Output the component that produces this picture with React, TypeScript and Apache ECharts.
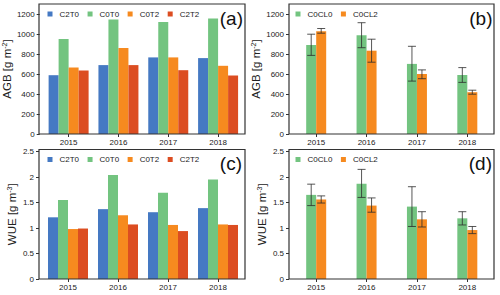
import React, { useEffect, useRef } from 'react';
import * as echarts from 'echarts';

const FONT = '"Liberation Sans", Arial, Helvetica, sans-serif';

const years = ['2015', '2016', '2017', '2018'];

// (a) AGB
const agbC2T0 = [588, 689, 766, 759];
const agbC0T0 = [951, 1146, 1119, 1156];
const agbC0T2 = [665, 860, 766, 682];
const agbC2T2 = [635, 689, 638, 585];

// (b) AGB with error bars
const agbC0CL0 = [890, 988, 701, 590];
const agbC0CL0Lo = [786, 863, 529, 516];
const agbC0CL0Hi = [998, 1113, 877, 664];
const agbC0CL2 = [1028, 833, 600, 418];
const agbC0CL2Lo = [1008, 718, 553, 398];
const agbC0CL2Hi = [1055, 948, 641, 438];

// (c) WUE
const wueC2T0 = [1.21, 1.37, 1.31, 1.39];
const wueC0T0 = [1.55, 2.04, 1.69, 1.95];
const wueC0T2 = [0.98, 1.25, 1.06, 1.07];
const wueC2T2 = [0.99, 1.07, 0.94, 1.06];

// (d) WUE with error bars
const wueC0CL0 = [1.65, 1.87, 1.42, 1.19];
const wueC0CL0Lo = [1.44, 1.6, 1.03, 1.06];
const wueC0CL0Hi = [1.86, 2.15, 1.81, 1.32];
const wueC0CL2 = [1.56, 1.44, 1.17, 0.96];
const wueC0CL2Lo = [1.49, 1.31, 1.02, 0.89];
const wueC0CL2Hi = [1.63, 1.59, 1.32, 1.03];

const agbTicks = [0, 200, 400, 600, 800, 1000, 1200];
const wueTicks = [0, 0.5, 1, 1.5, 2, 2.5];

const COLORS: Record<string, string> = {
  C2T0: '#4579c3',
  C0T0: '#73c480',
  C0T2: '#f68a1f',
  C2T2: '#dc4d21',
  C0CL0: '#73c480',
  C0CL2: '#f68a1f',
};

const panels = [
  { frame: [39, 4, 206, 130], grid: { left: 43, top: 4, width: 200, height: 130 }, yOffset: 4, label: '(a)', labelPos: [243, 18] },
  { frame: [289, 4, 205, 130], grid: { left: 291, top: 4, width: 201.5, height: 130 }, yOffset: 2, label: '(b)', labelPos: [492.5, 18] },
  { frame: [39, 149.5, 206, 129.5], grid: { left: 43, top: 149.5, width: 200, height: 129.5 }, yOffset: 4, label: '(c)', labelPos: [242, 163.5] },
  { frame: [289, 149.5, 205, 129.5], grid: { left: 291, top: 149.5, width: 201.5, height: 129.5 }, yOffset: 2, label: '(d)', labelPos: [492, 163.5] },
];

function errRender(shift: number) {
  return (params: any, api: any) => {
    const x = api.value(0);
    const lo = api.coord([x, api.value(1)]);
    const hi = api.coord([x, api.value(2)]);
    const cx = lo[0] + shift;
    const half = 4;
    const style = { stroke: 'rgba(45,45,45,0.8)', lineWidth: 1 };
    return {
      type: 'group',
      children: [
        { type: 'line', shape: { x1: cx, y1: lo[1], x2: cx, y2: hi[1] }, style },
        { type: 'line', shape: { x1: cx - half, y1: lo[1], x2: cx + half, y2: lo[1] }, style },
        { type: 'line', shape: { x1: cx - half, y1: hi[1], x2: cx + half, y2: hi[1] }, style },
      ],
    };
  };
}

function bar(name: string, data: number[], idx: number) {
  return {
    type: 'bar',
    name,
    data,
    xAxisIndex: idx,
    yAxisIndex: idx,
    barWidth: 10,
    barGap: '0%',
    itemStyle: { color: COLORS[name] },
  };
}

function err(lo: number[], hi: number[], idx: number, shift: number) {
  return {
    type: 'custom',
    xAxisIndex: idx,
    yAxisIndex: idx,
    data: years.map((_, i) => [i, lo[i], hi[i]]),
    encode: { x: 0, y: [1, 2] },
    renderItem: errRender(shift),
    z: 5,
    silent: true,
  };
}

function yName(main: string, sup: string) {
  return `{t|${main}}{s|${sup}}{t|]}`;
}

function buildOption() {
  const grid = panels.map((p) => ({ ...p.grid, containLabel: false }));
  const xAxis = panels.map((_, i) => ({
    type: 'category',
    gridIndex: i,
    data: years,
    axisLine: { show: false },
    axisTick: { show: true, alignWithLabel: true, length: 3, lineStyle: { color: '#333' } },
    axisLabel: { fontSize: 8, color: '#222', margin: 4, fontFamily: FONT },
    splitLine: { show: false },
  }));
  const yAxis = panels.map((p, i) => {
    const isAgb = i < 2;
    const ticks = isAgb ? agbTicks : wueTicks;
    return {
      type: 'value',
      gridIndex: i,
      min: 0,
      max: isAgb ? 1300 : 2.54,
      offset: p.yOffset,
      axisLine: { show: false },
      axisTick: { show: true, length: 3, lineStyle: { color: '#333' }, customValues: ticks },
      axisLabel: {
        fontSize: 8,
        color: '#222',
        margin: 5,
        fontFamily: FONT,
        customValues: ticks,
        formatter: (v: number) => String(v),
      },
      splitLine: { show: false },
      name: isAgb ? yName('AGB [g m', '-2') : yName('WUE [g m', '-3'),
      nameLocation: 'middle',
      nameGap: 21,
      nameTextStyle: {
        rich: {
          t: { fontSize: 11.5, color: '#222', fontFamily: FONT },
          s: { fontSize: 7, color: '#222', fontFamily: FONT, verticalAlign: 'top' },
        },
      },
    };
  });

  const legendBase = {
    itemWidth: 5,
    itemHeight: 5,
    icon: 'rect',
    padding: 0,
    itemStyle: { borderWidth: 0 },
    textStyle: { fontSize: 8, color: '#222', fontFamily: FONT, padding: [0, 0, 0, 2] },
  };
  const legend = [
    { ...legendBase, data: ['C2T0', 'C0T0', 'C0T2', 'C2T2'], left: 47.5, top: 10, itemGap: 8.5 },
    { ...legendBase, data: ['C0CL0', 'C0CL2'], left: 295.5, top: 10, itemGap: 8.5 },
    { ...legendBase, data: ['C2T0', 'C0T0', 'C0T2', 'C2T2'], left: 47.5, top: 155.5, itemGap: 8.5 },
    { ...legendBase, data: ['C0CL0', 'C0CL2'], left: 295.5, top: 155.5, itemGap: 8.5 },
  ];

  const series: any[] = [
    bar('C2T0', agbC2T0, 0),
    bar('C0T0', agbC0T0, 0),
    bar('C0T2', agbC0T2, 0),
    bar('C2T2', agbC2T2, 0),
    bar('C0CL0', agbC0CL0, 1),
    bar('C0CL2', agbC0CL2, 1),
    err(agbC0CL0Lo, agbC0CL0Hi, 1, -5),
    err(agbC0CL2Lo, agbC0CL2Hi, 1, 5),
    bar('C2T0', wueC2T0, 2),
    bar('C0T0', wueC0T0, 2),
    bar('C0T2', wueC0T2, 2),
    bar('C2T2', wueC2T2, 2),
    bar('C0CL0', wueC0CL0, 3),
    bar('C0CL2', wueC0CL2, 3),
    err(wueC0CL0Lo, wueC0CL0Hi, 3, -5),
    err(wueC0CL2Lo, wueC0CL2Hi, 3, 5),
  ];

  const graphic: any[] = [];
  panels.forEach((p) => {
    graphic.push({
      type: 'rect',
      shape: { x: p.frame[0], y: p.frame[1], width: p.frame[2], height: p.frame[3] },
      style: { fill: 'none', stroke: '#333', lineWidth: 1.2 },
      z: 10,
      silent: true,
    });
    graphic.push({
      type: 'text',
      x: p.labelPos[0],
      y: p.labelPos[1],
      style: {
        text: p.label,
        fontSize: 19,
        fontFamily: FONT,
        fill: '#111',
        textAlign: 'right',
        textVerticalAlign: 'middle',
      },
      z: 10,
    });
  });

  return {
    animation: false,
    backgroundColor: '#fff',
    textStyle: { fontFamily: FONT },
    grid,
    xAxis,
    yAxis,
    legend,
    series,
    graphic,
  };
}

export default function App() {
  const ref = useRef<HTMLDivElement>(null);
  useEffect(() => {
    const chart = echarts.init(ref.current!, null, { renderer: 'svg' });
    chart.setOption(buildOption() as any);
    return () => chart.dispose();
  }, []);
  return (
    <div
      ref={ref}
      style={{ position: 'fixed', left: 0, top: 0, width: 500, height: 295, background: '#fff' }}
    />
  );
}
